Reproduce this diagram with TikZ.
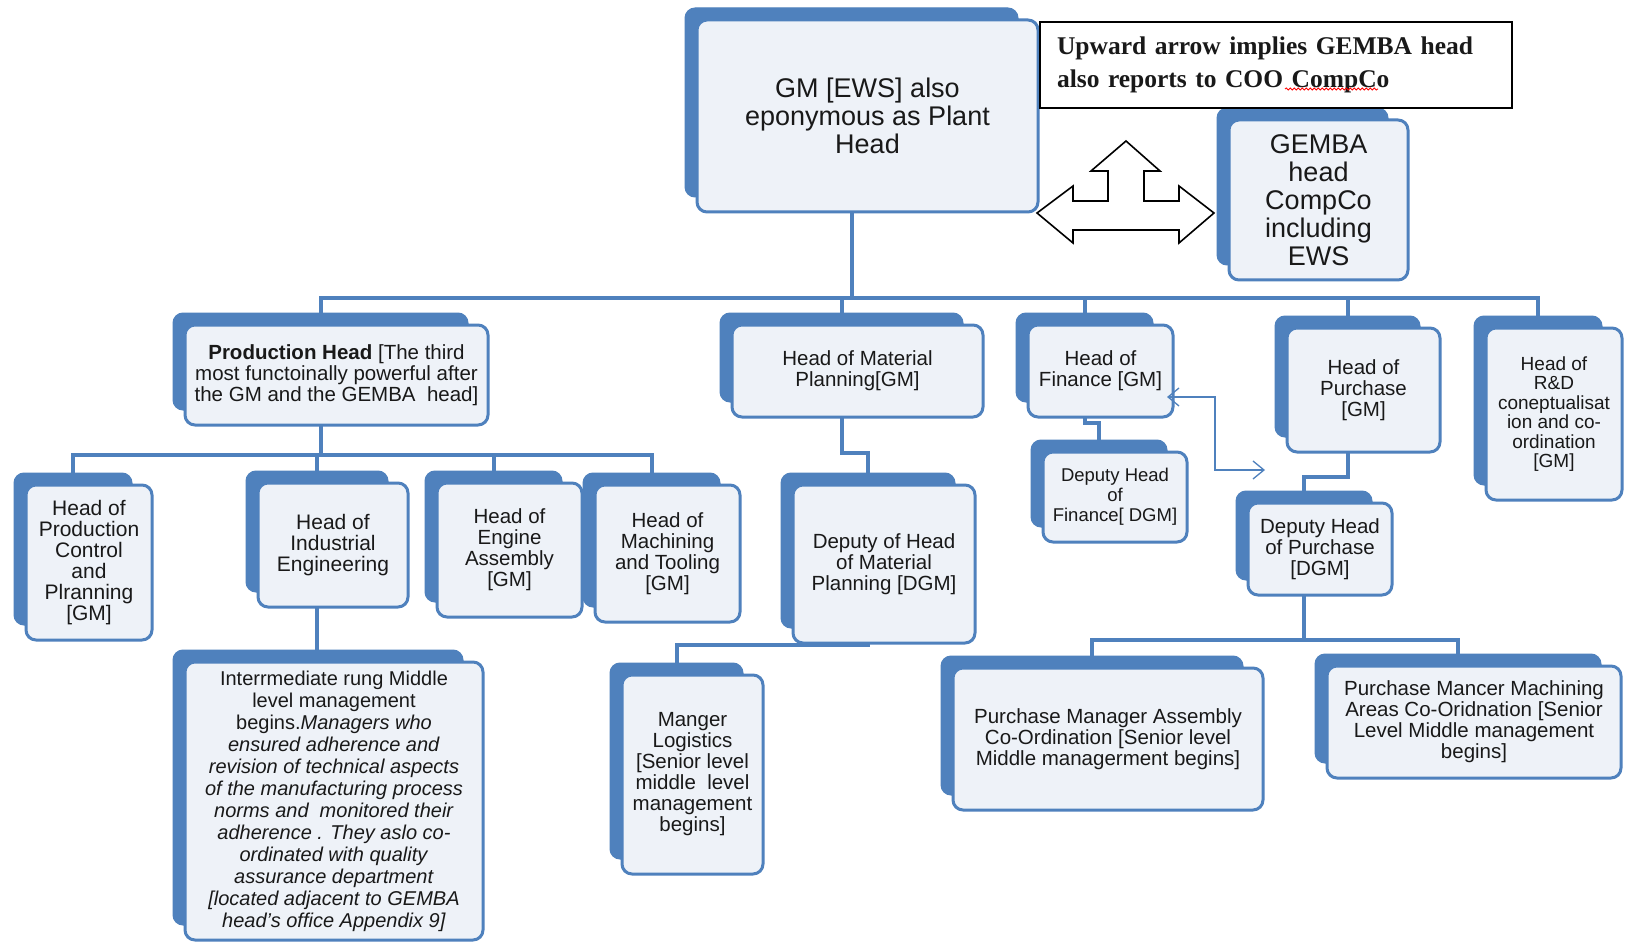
\documentclass[tikz,border=0pt]{standalone}
\usepackage{fontspec}
\setmainfont{Liberation Sans}
\newfontfamily\notefont{Liberation Serif}
\usetikzlibrary{arrows.meta,backgrounds,calc,decorations.pathmorphing}
\definecolor{obblue}{RGB}{79,129,189}
\definecolor{obfill}{RGB}{238,242,248}
\definecolor{obtext}{RGB}{25,25,25}
\newcommand{\obfbig}{\fontsize{27}{28}\selectfont}
\newcommand{\obfnorm}{\fontsize{20.5}{21}\selectfont}
\newcommand{\obfthree}{\fontsize{21}{21}\selectfont}
\newcommand{\obfsmall}{\fontsize{18.5}{20}\selectfont}
\newcommand{\obfrnd}{\fontsize{19}{19.5}\selectfont}
\newcommand{\obfinter}{\fontsize{20}{22}\selectfont}
\newcommand{\obfnote}{\notefont\bfseries\fontsize{25.5}{33}\selectfont}
\tikzset{
  backbox/.style={fill=obblue, draw=obblue, line width=1pt, rounded corners=10pt, inner sep=0pt, outer sep=0pt},
  frontbox/.style={draw=obblue, line width=3pt, fill=obfill, rounded corners=10pt, inner sep=0pt, outer sep=0pt, align=center, text=obtext, font=\obfnorm},
  conn/.style={draw=obblue, line width=4pt},
  link/.style={draw=obblue, line width=1.3pt, {Straight Barb[length=11pt,width=18pt]}-{Straight Barb[length=11pt,width=18pt]}},
  notebox/.style={draw=black, line width=1.5pt, fill=white, inner ysep=0pt, inner xsep=17pt, align=left, text=obtext, font=\obfnote},
  tripleArrow/.style={draw=black, line width=1.6pt, fill=white, line join=miter},
}
% #1 name, #2 x1, #3 y1, #4 x2, #5 y2 of the front box, #6 extra options, #7 text
\newcommand{\orgbox}[7]{%
  \pgfmathsetmacro{\obw}{#4-#2}\pgfmathsetmacro{\obh}{#5-#3}%
  \pgfmathsetmacro{\obcx}{(#2+#4)/2}\pgfmathsetmacro{\obcy}{(#3+#5)/2}%
  \pgfmathsetmacro{\obbw}{#4-#2-8}\pgfmathsetmacro{\obbh}{#5-#3-3}%
  \pgfmathsetmacro{\obbx}{(#2+#4)/2-16}\pgfmathsetmacro{\obby}{(#3+#5)/2-13.5}%
  \node[backbox, minimum width=\obbw pt, minimum height=\obbh pt] (#1) at (\obbx,\obby) {};
  \node[frontbox, minimum width=\obw pt, minimum height=\obh pt, #6] (#1F) at (\obcx,\obcy) {#7};
}
\begin{document}
\begin{tikzpicture}[x=1pt,y=-1pt]
\useasboundingbox (0,0) rectangle (1626,944);

% top level
\orgbox{gm}{697}{20}{1038}{212}{font=\obfbig}{GM [EWS] also\\eponymous as Plant\\Head}
\orgbox{gemba}{1229}{120}{1408}{280}{font=\obfbig}{GEMBA\\head\\CompCo\\including\\EWS}

\node[notebox, minimum width=472pt, minimum height=86pt, text width=438pt] (note) at (1276,65)
  {Upward arrow implies GEMBA head\\also reports to COO CompCo};
\draw[red, line width=0.8pt, decorate, decoration={snake, amplitude=1.1pt, segment length=4pt}]
  (1285,89) -- (1378,89);

% three-way arrow
\draw[tripleArrow] (1037,213) -- (1073,186) -- (1073,201) -- (1108,201) -- (1108,171) -- (1091,171)
  -- (1126,141) -- (1160,171) -- (1144,171) -- (1144,201) -- (1179,201) -- (1179,186)
  -- (1214,213) -- (1179,243) -- (1179,230) -- (1073,230) -- (1073,243) -- cycle;

% second level
\orgbox{prod}{185}{325}{488}{425}{}{\textbf{Production Head} [The third\\most functoinally powerful after\\the GM and the GEMBA\ \ head]}
\orgbox{mat}{732}{325}{983}{417}{}{Head of Material\\Planning[GM]}
\orgbox{fin}{1028}{325}{1173}{417}{}{Head of\\Finance [GM]}
\orgbox{pur}{1287}{328}{1440}{452}{}{Head of\\Purchase\\{[GM]}}
\orgbox{rnd}{1486}{328}{1622}{500}{font=\obfrnd}{Head of\\R\&D\\coneptualisat\\ion and co-\\ordination\\{[GM]}}

% third level
\orgbox{pcp}{26}{485}{152}{640}{font=\obfthree}{Head of\\Production\\Control\\and\\Plranning\\{[GM]}}
\orgbox{ie}{258}{483}{408}{607}{font=\obfthree}{Head of\\Industrial\\Engineering}
\orgbox{eng}{437}{483}{582}{617}{}{Head of\\Engine\\Assembly\\{[GM]}}
\orgbox{mach}{595}{485}{740}{622}{}{Head of\\Machining\\and Tooling\\{[GM]}}
\orgbox{dmat}{793}{485}{975}{643}{}{Deputy of Head\\of Material\\Planning [DGM]}
\orgbox{dfin}{1043}{452}{1187}{542}{font=\obfsmall}{Deputy Head\\of\\Finance[ DGM]}
\orgbox{dpur}{1248}{503}{1392}{595}{}{Deputy Head\\of Purchase\\{[DGM]}}

% fourth level
\orgbox{inter}{185}{662}{483}{940}{font=\obfinter}{Interrmediate rung Middle\\level management\\begins.\textit{Managers who}\\\textit{ensured adherence and}\\\textit{revision of technical aspects}\\\textit{of the manufacturing process}\\\textit{norms and\ \ monitored their}\\\textit{adherence . They aslo co-}\\\textit{ordinated with quality}\\\textit{assurance department}\\\textit{[located adjacent to GEMBA}\\\textit{head's office Appendix 9]}}
\orgbox{log}{622}{675}{763}{874}{}{Manger\\Logistics\\{[Senior level}\\middle\ \ level\\management\\begins]}
\orgbox{pma}{953}{668}{1263}{810}{}{Purchase Manager Assembly\\Co-Ordination [Senior level\\Middle managerment begins]}
\orgbox{pmm}{1327}{666}{1621}{778}{}{Purchase Mancer Machining\\Areas Co-Oridnation [Senior\\Level Middle management\\begins]}

% connectors
\begin{scope}[on background layer]
  \fill[white] (0,0) rectangle (1626,944);
  \foreach \c in {prod,mat,fin,pur,rnd}
    \draw[conn] (gm.south) -- ++(0,101) -| (\c.north);
  \foreach \c in {pcp,ie,eng,mach}
    \draw[conn] (prod.south) -- ++(0,45) -| (\c.north);
  \draw[conn] (mat.south) -- ++(0,51) -| (dmat.north);
  \draw[conn] (fin.south) -- ++(0,21) -| (dfin.north);
  \draw[conn] (pur.south) -- ++(0,40) -| (dpur.north);
  \draw[conn] (ie.south) -- (ie.south |- inter.north);
  \draw[conn] (dmat.south) -- ++(0,17) -| (log.north);
  \foreach \c in {pma,pmm}
    \draw[conn] (dpur.south) -- ++(0,60) -| (\c.north);
\end{scope}

% finance <-> purchase link
\coordinate (finlink) at ($(finF.south east)+(-6,-20)$);
\coordinate (purlink) at ($(dpurF.north west)+(17,-33)$);
\draw[link] (finlink) -- ++(48,0) |- (purlink);
\end{tikzpicture}
\end{document}
